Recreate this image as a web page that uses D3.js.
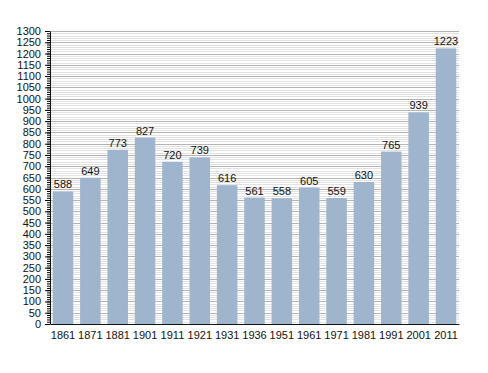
<!DOCTYPE html>
<html>
<head>
<meta charset="utf-8">
<script src="https://cdn.jsdelivr.net/npm/d3@7"></script>
<style>
  body { margin: 0; background: #fff; }
  text { font-family: "Liberation Sans", Arial, sans-serif; }
</style>
</head>
<body>
<div id="container"></div>
<script>
/* CONSTANTS AND GLOBALS */
const width = 488;
const height = 373;
const margin = { top: 31, bottom: 49, left: 50, right: 29 };

/* DATA */
const years = ["1861", "1871", "1881", "1901", "1911", "1921", "1931", "1936",
  "1951", "1961", "1971", "1981", "1991", "2001", "2011"];
const population = [588, 649, 773, 827, 720, 739, 616, 561, 558, 605, 559, 630, 765, 939, 1223];
const yMax = 1300;

const xScale = d3.scaleBand()
  .domain(years)
  .range([margin.left, width - margin.right])
  .paddingInner(0.25)
  .paddingOuter(0.1);

const yScale = d3.scaleLinear()
  .domain([0, yMax])
  .range([height - margin.bottom, margin.top]);

const svg = d3.select("#container")
  .append("svg")
  .attr("width", width)
  .attr("height", height);

// minor grid every 10, major every 50
const minor = d3.range(10, yMax + 1, 10).filter(v => v % 50 !== 0);
const major = d3.range(50, yMax + 1, 50);

svg.append("g")
  .selectAll("line")
  .data(minor)
  .join("line")
  .attr("x1", margin.left)
  .attr("x2", width - margin.right)
  .attr("y1", d => Math.round(yScale(d)) + 0.5)
  .attr("y2", d => Math.round(yScale(d)) + 0.5)
  .attr("stroke", "#e2e2e2")
  .attr("stroke-width", 1);

svg.append("g")
  .selectAll("line")
  .data(major)
  .join("line")
  .attr("x1", margin.left)
  .attr("x2", width - margin.right)
  .attr("y1", d => Math.round(yScale(d)) + 0.5)
  .attr("y2", d => Math.round(yScale(d)) + 0.5)
  .attr("stroke", "#b4b4b4")
  .attr("stroke-width", 1);

// bars
svg.append("g")
  .selectAll("rect")
  .data(years)
  .join("rect")
  .attr("x", d => xScale(d))
  .attr("width", xScale.bandwidth())
  .attr("y", (d, i) => yScale(population[i]))
  .attr("height", (d, i) => yScale(0) - yScale(population[i]))
  .attr("fill", "#9fb5cd");

// value labels
svg.append("g")
  .selectAll("text")
  .data(years)
  .join("text")
  .attr("x", d => xScale(d) + xScale.bandwidth() / 2)
  .attr("y", (d, i) => yScale(population[i]) - 3)
  .attr("text-anchor", "middle")
  .attr("font-size", 11)
  .attr("fill", "#111")
  .text((d, i) => population[i]);

// y axis: minor ticks
svg.append("g")
  .attr("transform", `translate(${margin.left},0)`)
  .call(d3.axisLeft(yScale).tickValues(d3.range(0, yMax + 1, 10)).tickSize(3).tickFormat(""))
  .call(g => g.select(".domain").remove());

// y axis: major ticks with labels
svg.append("g")
  .attr("transform", `translate(${margin.left},0)`)
  .call(d3.axisLeft(yScale).tickValues([0].concat(major)).tickSize(5).tickPadding(4)
    .tickSizeOuter(0).tickFormat(d3.format("d")))
  .call(g => g.selectAll("text").attr("font-size", 11).attr("fill", "#111").attr("font-family", "Liberation Sans, Arial, sans-serif"))
  .call(g => g.select(".domain").attr("stroke", "#111"));

// x axis
svg.append("g")
  .attr("transform", `translate(0,${height - margin.bottom})`)
  .call(d3.axisBottom(xScale).tickSize(0).tickPadding(7).tickSizeOuter(0))
  .call(g => g.selectAll("text").attr("font-size", 11).attr("fill", "#111").attr("font-family", "Liberation Sans, Arial, sans-serif"))
  .call(g => g.select(".domain").attr("stroke", "#111"));
</script>
</body>
</html>
